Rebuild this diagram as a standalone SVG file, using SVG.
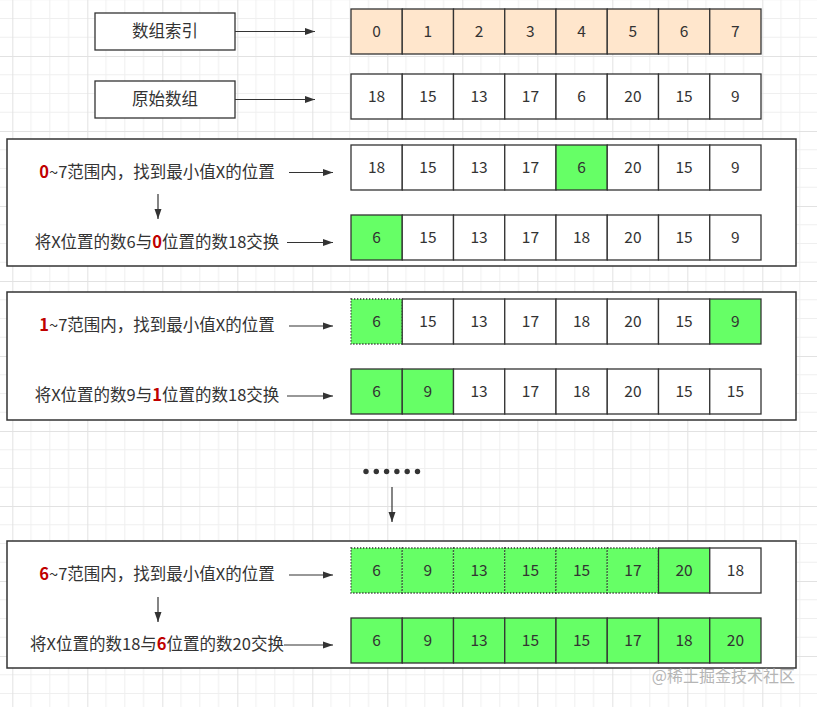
<svg xmlns="http://www.w3.org/2000/svg" width="817" height="707" viewBox="0 0 817 707">
<defs>
<pattern id="grid" patternUnits="userSpaceOnUse" x="12.3" y="56" width="75" height="75">
<path d="M18.75 0V75M37.5 0V75M56.25 0V75M0 18.75H75M0 37.5H75M0 56.25H75" stroke="#efefef" stroke-width="1" fill="none"/>
<path d="M0.5 0V75M0 0.5H75" stroke="#e2e2e2" stroke-width="1" fill="none"/>
</pattern>
<marker id="ah" viewBox="0 0 10 10" refX="10" refY="5" markerWidth="10" markerHeight="10" markerUnits="userSpaceOnUse" orient="auto">
<path d="M0 1.5L10 5L0 8.5Z" fill="#333"/>
</marker>
<style>
.t{font-family:"Noto Sans CJK SC","Liberation Sans",sans-serif;fill:#333}
.lbl{font-size:16.5px}
.num{font-size:15.5px;text-anchor:middle}
.c{stroke:#333;stroke-width:1.3;fill:#fff}
.pe{fill:#ffe6cc}
.g{fill:#66ff66}
.d{fill:#66ff66;stroke-dasharray:1.3 1.7}
.box{fill:#fff;stroke:#333;stroke-width:1.5}
.red{fill:#c00000;font-weight:bold}
.ar{stroke:#333;stroke-width:1.2;fill:none;marker-end:url(#ah)}
</style>
</defs>
<rect width="817" height="707" fill="#fff"/>
<rect width="817" height="707" fill="url(#grid)"/>

<g id="group1"><rect class="box" x="7" y="139" width="789" height="127"/></g>
<g id="group2"><rect class="box" x="7" y="292" width="789" height="128"/></g>
<g id="group3"><rect class="box" x="7" y="541" width="789" height="127"/></g>

<g id="label-index"><rect class="c" x="95" y="13" width="140" height="37"/><text class="t lbl" x="165" y="37" text-anchor="middle">数组索引</text></g>
<g id="label-orig"><rect class="c" x="95" y="81" width="140" height="37"/><text class="t lbl" x="165" y="105" text-anchor="middle">原始数组</text></g>

<g id="text1a"><text class="t lbl" x="157" y="178" text-anchor="middle"><tspan class="red">0</tspan>~7范围内，找到最小值X的位置</text></g>
<g id="text1b"><text class="t lbl" x="157" y="248" text-anchor="middle">将X位置的数6与<tspan class="red">0</tspan>位置的数18交换</text></g>
<g id="text2a"><text class="t lbl" x="157" y="331" text-anchor="middle"><tspan class="red">1</tspan>~7范围内，找到最小值X的位置</text></g>
<g id="text2b"><text class="t lbl" x="157" y="401" text-anchor="middle">将X位置的数9与<tspan class="red">1</tspan>位置的数18交换</text></g>
<g id="dots" fill="#333"><circle cx="366" cy="471.5" r="2.7"/><circle cx="376.3" cy="471.5" r="2.7"/><circle cx="386.6" cy="471.5" r="2.7"/><circle cx="396.9" cy="471.5" r="2.7"/><circle cx="407.2" cy="471.5" r="2.7"/><circle cx="417.5" cy="471.5" r="2.7"/></g>
<g id="text3a"><text class="t lbl" x="157" y="580" text-anchor="middle"><tspan class="red">6</tspan>~7范围内，找到最小值X的位置</text></g>
<g id="text3b"><text class="t lbl" x="157" y="650" text-anchor="middle">将X位置的数18与<tspan class="red">6</tspan>位置的数20交换</text></g>

<g id="row-index">
<rect class="c pe" x="351" y="9" width="51.25" height="45"/><rect class="c pe" x="402.25" y="9" width="51.25" height="45"/><rect class="c pe" x="453.5" y="9" width="51.25" height="45"/><rect class="c pe" x="504.75" y="9" width="51.25" height="45"/><rect class="c pe" x="556" y="9" width="51.25" height="45"/><rect class="c pe" x="607.25" y="9" width="51.25" height="45"/><rect class="c pe" x="658.5" y="9" width="51.25" height="45"/><rect class="c pe" x="709.75" y="9" width="51.25" height="45"/>
<g class="t num"><text x="376.6" y="37">0</text><text x="427.9" y="37">1</text><text x="479.1" y="37">2</text><text x="530.4" y="37">3</text><text x="581.6" y="37">4</text><text x="632.9" y="37">5</text><text x="684.1" y="37">6</text><text x="735.4" y="37">7</text></g>
</g>

<g id="row-orig">
<rect class="c" x="351" y="74" width="51.25" height="45"/><rect class="c" x="402.25" y="74" width="51.25" height="45"/><rect class="c" x="453.5" y="74" width="51.25" height="45"/><rect class="c" x="504.75" y="74" width="51.25" height="45"/><rect class="c" x="556" y="74" width="51.25" height="45"/><rect class="c" x="607.25" y="74" width="51.25" height="45"/><rect class="c" x="658.5" y="74" width="51.25" height="45"/><rect class="c" x="709.75" y="74" width="51.25" height="45"/>
<g class="t num"><text x="376.6" y="102">18</text><text x="427.9" y="102">15</text><text x="479.1" y="102">13</text><text x="530.4" y="102">17</text><text x="581.6" y="102">6</text><text x="632.9" y="102">20</text><text x="684.1" y="102">15</text><text x="735.4" y="102">9</text></g>
</g>

<g id="row-1a">
<rect class="c" x="351" y="145" width="51.25" height="45"/><rect class="c" x="402.25" y="145" width="51.25" height="45"/><rect class="c" x="453.5" y="145" width="51.25" height="45"/><rect class="c" x="504.75" y="145" width="51.25" height="45"/><rect class="c g" x="556" y="145" width="51.25" height="45"/><rect class="c" x="607.25" y="145" width="51.25" height="45"/><rect class="c" x="658.5" y="145" width="51.25" height="45"/><rect class="c" x="709.75" y="145" width="51.25" height="45"/>
<g class="t num"><text x="376.6" y="173">18</text><text x="427.9" y="173">15</text><text x="479.1" y="173">13</text><text x="530.4" y="173">17</text><text x="581.6" y="173">6</text><text x="632.9" y="173">20</text><text x="684.1" y="173">15</text><text x="735.4" y="173">9</text></g>
</g>

<g id="row-1b">
<rect class="c g" x="351" y="215" width="51.25" height="45"/><rect class="c" x="402.25" y="215" width="51.25" height="45"/><rect class="c" x="453.5" y="215" width="51.25" height="45"/><rect class="c" x="504.75" y="215" width="51.25" height="45"/><rect class="c" x="556" y="215" width="51.25" height="45"/><rect class="c" x="607.25" y="215" width="51.25" height="45"/><rect class="c" x="658.5" y="215" width="51.25" height="45"/><rect class="c" x="709.75" y="215" width="51.25" height="45"/>
<g class="t num"><text x="376.6" y="243">6</text><text x="427.9" y="243">15</text><text x="479.1" y="243">13</text><text x="530.4" y="243">17</text><text x="581.6" y="243">18</text><text x="632.9" y="243">20</text><text x="684.1" y="243">15</text><text x="735.4" y="243">9</text></g>
</g>

<g id="row-2a">
<rect class="c d" x="351" y="299" width="51.25" height="45"/><rect class="c" x="402.25" y="299" width="51.25" height="45"/><rect class="c" x="453.5" y="299" width="51.25" height="45"/><rect class="c" x="504.75" y="299" width="51.25" height="45"/><rect class="c" x="556" y="299" width="51.25" height="45"/><rect class="c" x="607.25" y="299" width="51.25" height="45"/><rect class="c" x="658.5" y="299" width="51.25" height="45"/><rect class="c g" x="709.75" y="299" width="51.25" height="45"/>
<g class="t num"><text x="376.6" y="327">6</text><text x="427.9" y="327">15</text><text x="479.1" y="327">13</text><text x="530.4" y="327">17</text><text x="581.6" y="327">18</text><text x="632.9" y="327">20</text><text x="684.1" y="327">15</text><text x="735.4" y="327">9</text></g>
</g>

<g id="row-2b">
<rect class="c g" x="351" y="369" width="51.25" height="45"/><rect class="c g" x="402.25" y="369" width="51.25" height="45"/><rect class="c" x="453.5" y="369" width="51.25" height="45"/><rect class="c" x="504.75" y="369" width="51.25" height="45"/><rect class="c" x="556" y="369" width="51.25" height="45"/><rect class="c" x="607.25" y="369" width="51.25" height="45"/><rect class="c" x="658.5" y="369" width="51.25" height="45"/><rect class="c" x="709.75" y="369" width="51.25" height="45"/>
<g class="t num"><text x="376.6" y="397">6</text><text x="427.9" y="397">9</text><text x="479.1" y="397">13</text><text x="530.4" y="397">17</text><text x="581.6" y="397">18</text><text x="632.9" y="397">20</text><text x="684.1" y="397">15</text><text x="735.4" y="397">15</text></g>
</g>

<g id="row-3a">
<rect class="c d" x="351" y="548" width="51.25" height="45"/><rect class="c d" x="402.25" y="548" width="51.25" height="45"/><rect class="c d" x="453.5" y="548" width="51.25" height="45"/><rect class="c d" x="504.75" y="548" width="51.25" height="45"/><rect class="c d" x="556" y="548" width="51.25" height="45"/><rect class="c d" x="607.25" y="548" width="51.25" height="45"/><rect class="c g" x="658.5" y="548" width="51.25" height="45"/><rect class="c" x="709.75" y="548" width="51.25" height="45"/>
<g class="t num"><text x="376.6" y="576">6</text><text x="427.9" y="576">9</text><text x="479.1" y="576">13</text><text x="530.4" y="576">15</text><text x="581.6" y="576">15</text><text x="632.9" y="576">17</text><text x="684.1" y="576">20</text><text x="735.4" y="576">18</text></g>
</g>

<g id="row-3b">
<rect class="c g" x="351" y="618" width="51.25" height="45"/><rect class="c g" x="402.25" y="618" width="51.25" height="45"/><rect class="c g" x="453.5" y="618" width="51.25" height="45"/><rect class="c g" x="504.75" y="618" width="51.25" height="45"/><rect class="c g" x="556" y="618" width="51.25" height="45"/><rect class="c g" x="607.25" y="618" width="51.25" height="45"/><rect class="c g" x="658.5" y="618" width="51.25" height="45"/><rect class="c g" x="709.75" y="618" width="51.25" height="45"/>
<g class="t num"><text x="376.6" y="646">6</text><text x="427.9" y="646">9</text><text x="479.1" y="646">13</text><text x="530.4" y="646">15</text><text x="581.6" y="646">15</text><text x="632.9" y="646">17</text><text x="684.1" y="646">18</text><text x="735.4" y="646">20</text></g>
</g>

<g id="connectors">
<path class="ar" d="M235 31.5H315"/>
<path class="ar" d="M235 99.5H315"/>
<path class="ar" d="M289 172.5H333"/>
<path class="ar" d="M158 194V219"/>
<path class="ar" d="M287 242.5H333"/>
<path class="ar" d="M289 326H333"/>
<path class="ar" d="M287 396H333"/>
<path class="ar" d="M392 487V522"/>
<path class="ar" d="M289 575H333"/>
<path class="ar" d="M158 597V622"/>
<path class="ar" d="M284 645H333"/>
</g>

<text x="795" y="682" text-anchor="end" font-family="Noto Sans CJK SC, sans-serif" font-size="16" fill="#b5b5b5">@稀土掘金技术社区</text>
</svg>
